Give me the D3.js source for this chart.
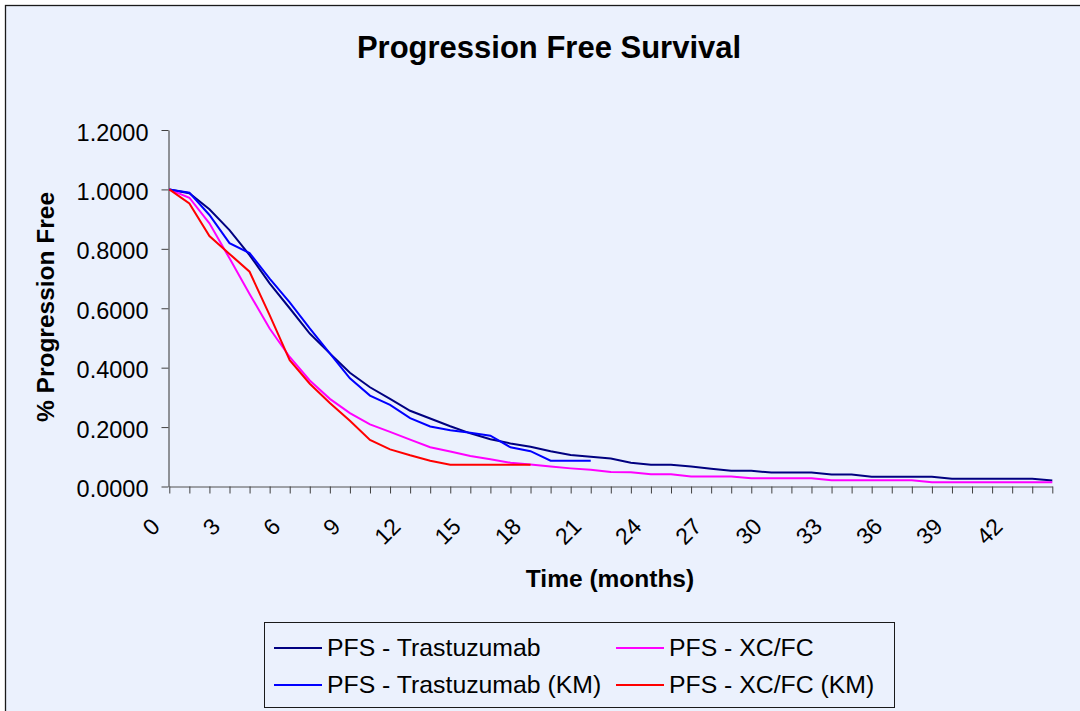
<!DOCTYPE html>
<html>
<head>
<meta charset="utf-8">
<script src="https://cdn.jsdelivr.net/npm/d3@7"></script>
<style>
  html, body { margin: 0; padding: 0; background: #ffffff; }
  svg { display: block; font-family: Arial, "Liberation Sans", sans-serif; }
</style>
</head>
<body>
<svg id="chart" width="1080" height="711"></svg>
<script>
// Month index along the category axis
const months = [0,1,2,3,4,5,6,7,8,9,10,11,12,13,14,15,16,17,18,19,20,21,22,
                23,24,25,26,27,28,29,30,31,32,33,34,35,36,37,38,39,40,41,42,43,44];
const monthLabels = [0,3,6,9,12,15,18,21,24,27,30,33,36,39,42];
const yTicks = [0,0.2,0.4,0.6,0.8,1.0,1.2];

// Modelled progression-free survival, trastuzumab arm
const pfsTrastuzumab = [1.000,0.987,0.933,0.863,0.779,0.684,0.600,0.515,0.448,0.383,
                        0.334,0.295,0.255,0.229,0.203,0.179,0.159,0.145,0.134,0.119,
                        0.106,0.100,0.094,0.080,0.073,0.073,0.067,0.060,0.053,0.053,
                        0.047,0.047,0.047,0.040,0.040,0.033,0.033,0.033,0.033,0.026,
                        0.026,0.026,0.026,0.026,0.020];
// Modelled progression-free survival, XC/FC arm
const pfsXcFc = [1.000,0.972,0.886,0.768,0.648,0.532,0.436,0.357,0.295,0.247,
                 0.209,0.184,0.158,0.132,0.118,0.103,0.092,0.080,0.074,0.067,
                 0.061,0.056,0.049,0.048,0.041,0.041,0.034,0.034,0.034,0.028,
                 0.028,0.028,0.028,0.021,0.021,0.021,0.021,0.021,0.014,0.014,
                 0.014,0.014,0.014,0.014,0.014];
// Kaplan-Meier estimates, trastuzumab arm
const kmTrastuzumab = [1.000,0.989,0.914,0.819,0.786,0.700,0.620,0.532,0.448,0.364,
                       0.306,0.275,0.230,0.202,0.189,0.181,0.171,0.132,0.119,0.087,
                       0.087,0.087];
// Kaplan-Meier estimates, XC/FC arm
const kmXcFc = [1.000,0.953,0.843,0.783,0.723,0.577,0.425,0.346,0.281,0.221,
                0.157,0.125,0.105,0.087,0.073,0.073,0.073,0.073,0.073];

const seriesNames = ["PFS - Trastuzumab","PFS - XC/FC","PFS - Trastuzumab (KM)","PFS - XC/FC (KM)"];
const seriesColors = ["#000080","#FF00FF","#0000FF","#FF0000"];
const seriesValues = [pfsTrastuzumab, pfsXcFc, kmTrastuzumab, kmXcFc];

const svg = d3.select("#chart");
const bg = "#EBF1FD";

// chart area with frame
svg.append("rect")
  .attr("x", 5.5).attr("y", 5.5)
  .attr("width", 1090).attr("height", 720)
  .attr("fill", bg).attr("stroke", "#1a1a1a").attr("stroke-width", 1.3);

const x = d3.scalePoint().domain(months).range([169.3, 1052.3]).padding(0);
const y = d3.scaleLinear().domain([0, 1.2]).range([486.5, 130]);

// title
svg.append("text")
  .attr("x", 549).attr("y", 58)
  .attr("text-anchor", "middle")
  .attr("font-size", 31).attr("font-weight", "bold")
  .text("Progression Free Survival");

// y axis
const yAxis = svg.append("g")
  .attr("transform", "translate(168.5,0)")
  .call(d3.axisLeft(y).tickValues(yTicks).tickSize(7).tickSizeOuter(0).tickFormat(d3.format(".4f")));
yAxis.select(".domain").attr("stroke", "#303030");
yAxis.selectAll(".tick line").attr("stroke", "#404040");
yAxis.selectAll(".tick text")
  .attr("x", -20).attr("dy", null).attr("y", 10)
  .attr("font-size", 23.5).attr("fill", "#000")
  .attr("font-family", "Arial, 'Liberation Sans', sans-serif");

// x axis
const xAxis = svg.append("g")
  .attr("transform", "translate(0,486.5)")
  .call(d3.axisBottom(x).tickSize(7).tickSizeOuter(0).tickFormat(""));
xAxis.select(".domain").attr("stroke", "#505050");
xAxis.selectAll(".tick line").attr("stroke", "#404040");

svg.append("g").selectAll("text")
  .data(monthLabels)
  .join("text")
  .attr("transform", d => `translate(${x(d) - 8},528) rotate(-45)`)
  .attr("text-anchor", "end")
  .attr("font-size", 23)
  .text(d => d);

// axis titles
svg.append("text")
  .attr("x", 610).attr("y", 587)
  .attr("text-anchor", "middle")
  .attr("font-size", 24.5).attr("font-weight", "bold")
  .text("Time (months)");

svg.append("text")
  .attr("transform", "translate(54,307) rotate(-90)")
  .attr("text-anchor", "middle")
  .attr("font-size", 24.5).attr("font-weight", "bold")
  .text("% Progression Free");

// survival curves
const line = d3.line().x((d, i) => x(months[i])).y(d => y(d));
svg.append("g").selectAll("path")
  .data(seriesValues)
  .join("path")
  .attr("d", d => line(d))
  .attr("fill", "none")
  .attr("stroke", (d, i) => seriesColors[i])
  .attr("stroke-width", 2)
  .attr("stroke-linejoin", "miter");

// legend
const legend = svg.append("g");
legend.append("rect")
  .attr("x", 264.5).attr("y", 622.5)
  .attr("width", 630).attr("height", 85)
  .attr("fill", bg).attr("stroke", "#1a1a1a").attr("stroke-width", 1);

const legendPos = [
  {lx: 274, ty: 656}, {lx: 616, ty: 656},
  {lx: 274, ty: 693}, {lx: 616, ty: 693}
];
seriesNames.forEach((name, i) => {
  const p = legendPos[i];
  legend.append("line")
    .attr("x1", p.lx).attr("x2", p.lx + 48)
    .attr("y1", p.ty - 8).attr("y2", p.ty - 8)
    .attr("stroke", seriesColors[i]).attr("stroke-width", 2);
  legend.append("text")
    .attr("x", p.lx + 53).attr("y", p.ty)
    .attr("font-size", 24.8)
    .text(name);
});
</script>
</body>
</html>
